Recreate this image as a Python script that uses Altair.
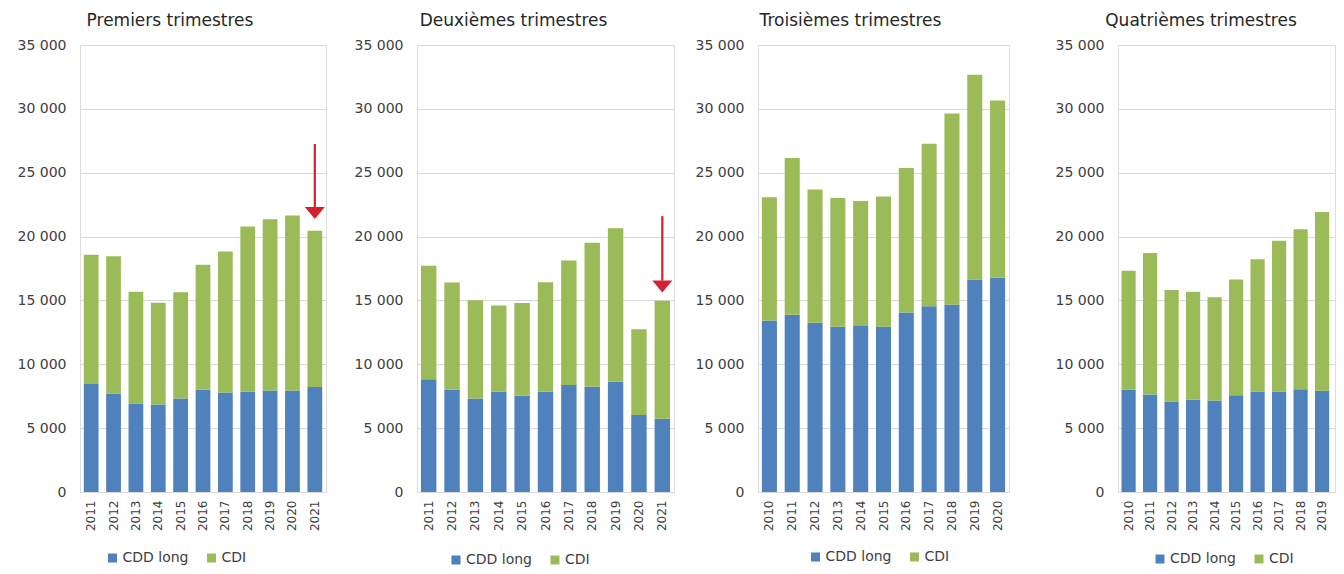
import altair as alt
import pandas as pd

FONT = "DejaVu Sans"
BLUE = "#4F81BD"
GREEN = "#9BBB59"
RED = "#D42030"
GRID = "#D9D9D9"
TEXT = "#404040"

years_a = ["2011", "2012", "2013", "2014", "2015", "2016", "2017", "2018", "2019", "2020", "2021"]
years_b = ["2010", "2011", "2012", "2013", "2014", "2015", "2016", "2017", "2018", "2019", "2020"]

# Premiers trimestres
t1_cdd = [8450, 7720, 6930, 6860, 7330, 8000, 7800, 7850, 7950, 7950, 8220]
t1_cdi = [10120, 10740, 8740, 7950, 8320, 9790, 11030, 12940, 13410, 13700, 12230]
# Deuxièmes trimestres
t2_cdd = [8820, 8010, 7330, 7850, 7540, 7850, 8370, 8240, 8630, 6030, 5740]
t2_cdi = [8890, 8400, 7690, 6760, 7250, 8580, 9760, 11270, 12030, 6720, 9230]
# Troisièmes trimestres
t3_cdd = [13420, 13880, 13250, 12930, 12990, 12930, 14050, 14540, 14660, 16640, 16780]
t3_cdi = [9650, 12270, 10430, 10090, 9800, 10200, 11320, 12730, 14970, 16030, 13880]
# Quatrièmes trimestres (the last year is cut off at the right edge of the picture)
t4_cdd = [8010, 7640, 7090, 7230, 7170, 7580, 7870, 7870, 8040, 7930, 7640]
t4_cdi = [9320, 11080, 8730, 8450, 8070, 9050, 10350, 11800, 12530, 14000, 11280]
t4_visible_years = years_b[:-1]

series_names = ["CDD long", "CDI"]

# Arrow annotations (year, top of shaft, bottom of shaft, head centre)
arrow1 = {"year": "2021", "top": 27250, "bottom": 22300, "head": 21850}
arrow2 = {"year": "2021", "top": 21600, "bottom": 16550, "head": 16100}

TRI = "M-1,-0.6L1,-0.6L0,0.6Z"


def panel(title, years, cdd, cdi, extent, width, height, lx, ly, dx,
          arrow=None, visible_years=None, pad_outer=0.17, align=0.5):
    n = len(years)
    df = pd.DataFrame({
        "year": years + years,
        "type": [series_names[0]] * n + [series_names[1]] * n,
        "value": cdd + cdi,
        "k": [0] * n + [1] * n,
    })
    domain = visible_years if visible_years is not None else years
    xscale = alt.Scale(domain=domain, paddingInner=0.34, paddingOuter=pad_outer, align=align)
    yscale = alt.Scale(domain=[0, 35000], nice=False)
    xaxis = alt.Axis(title=None, labelAngle=-90, ticks=False, labelPadding=8,
                     domainColor=GRID, domainWidth=1, labelFontSize=12,
                     labelColor=TEXT, labelFont=FONT)
    yaxis = alt.Axis(
        title=None, values=list(range(0, 35001, 5000)),
        labelExpr="replace(format(datum.value, ','), ',', ' ')",
        grid=True, gridColor=GRID, gridWidth=1, domain=False, ticks=False,
        labelPadding=14, minExtent=extent, maxExtent=extent,
        labelFontSize=14, labelColor=TEXT, labelFont=FONT)
    base = alt.Chart(df)
    if visible_years is not None:
        base = base.transform_filter(alt.FieldOneOfPredicate(field="year", oneOf=visible_years))
    bars = base.mark_bar().encode(
        x=alt.X("year:N", scale=xscale, axis=xaxis),
        y=alt.Y("value:Q", stack="zero", scale=yscale, axis=yaxis),
        color=alt.Color("type:N", scale=alt.Scale(domain=series_names, range=[BLUE, GREEN]),
                        legend=alt.Legend(title=None, orient="none", legendX=lx, legendY=ly,
                                          direction="horizontal", symbolType="square",
                                          symbolSize=81, symbolStrokeWidth=0, labelOffset=3,
                                          columnPadding=15, labelFontSize=14,
                                          labelColor=TEXT, labelFont=FONT, padding=0)),
        order=alt.Order("k:Q"),
    )
    layers = [bars]
    if arrow is not None:
        adf = pd.DataFrame([arrow])
        shaft = alt.Chart(adf).mark_rule(color=RED, strokeWidth=2.2).encode(
            x=alt.X("year:N", scale=xscale, axis=xaxis),
            y=alt.Y("top:Q", scale=yscale, axis=yaxis),
            y2="bottom:Q",
        )
        head = alt.Chart(adf).mark_point(shape=TRI, filled=True, size=400, color=RED, opacity=1).encode(
            x=alt.X("year:N", scale=xscale, axis=xaxis),
            y=alt.Y("head:Q", scale=yscale, axis=yaxis),
        )
        layers += [shaft, head]
    return alt.layer(*layers).properties(
        width=width, height=height,
        title=alt.TitleParams(title, frame="group", anchor="middle", dx=dx,
                              fontSize=17, font=FONT, fontWeight="normal",
                              color="#262626", offset=8),
    )


p1 = panel("Premiers trimestres", years_a, t1_cdd, t1_cdi, 71, 246, 447, 25.5, 506, -33, arrow=arrow1)
p2 = panel("Deuxièmes trimestres", years_a, t2_cdd, t2_cdi, 79, 257, 447, 32, 508, -32, arrow=arrow2)
p3 = panel("Troisièmes trimestres", years_b, t3_cdd, t3_cdi, 72, 251, 447, 50.5, 505, -33)
p4 = panel("Quatrièmes trimestres", years_b, t4_cdd, t4_cdi, 97, 217, 447, 35, 507, -25.5,
           visible_years=t4_visible_years, pad_outer=0.2165, align=0.376)

chart = alt.hconcat(p1, p2, p3, p4, spacing=10).resolve_scale(
    x="independent", y="independent", color="independent"
).resolve_legend(color="independent").properties(
    padding={"left": 0, "top": 3, "right": 0, "bottom": 0}
).configure_view(strokeOpacity=0, strokeWidth=0).configure(font=FONT)

chart.save("out.html", embed_options={"renderer": "svg", "actions": False})
